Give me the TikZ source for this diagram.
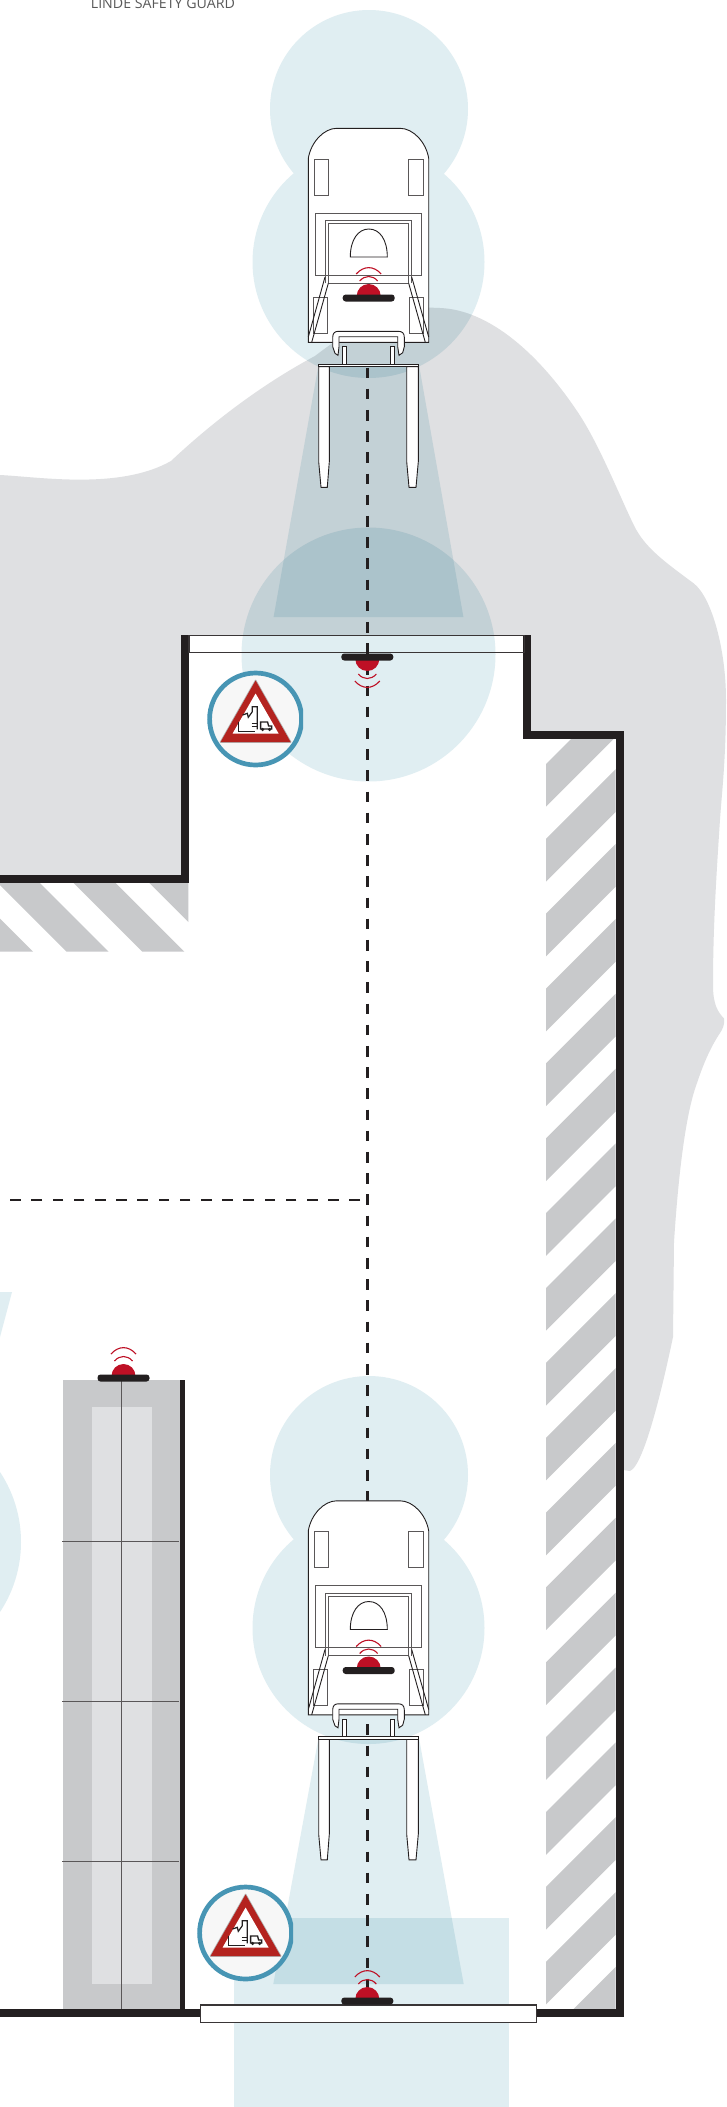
\documentclass[tikz,border=0pt]{standalone}
\usepackage{fontspec}
\setmainfont{Open Sans}
\definecolor{zonecol}{HTML}{E0EEF2}
\definecolor{blobcol}{HTML}{DFE0E2}
\definecolor{hatchcol}{HTML}{C8C9CB}
\definecolor{wallcol}{HTML}{231F20}
\definecolor{redcol}{HTML}{BE1025}
\definecolor{signcol}{HTML}{B4231F}
\definecolor{ringcol}{HTML}{4795B4}
\tikzset{zone/.style={fill=zonecol,blend mode=multiply},wall/.style={draw=wallcol,line width=8pt,miter limit=10},
thin line/.style={draw=wallcol,line width=0.9pt},pale line/.style={draw=wallcol!75,line width=0.9pt},
walkway/.style={draw=wallcol,line width=2.5pt,dash pattern=on 10.7pt off 10.5pt},
beacon/.pic={\fill[redcol](-12,-2)arc[start angle=180,end angle=360,radius=12]--cycle;
\fill[wallcol,rounded corners=3pt](-26,-3.5)rectangle(26,3.5);
\draw[redcol,line width=1.1pt](-12.5,-24)..controls(-5,-32.5)and(5,-32.5)..(12.5,-24);
\draw[redcol,line width=1.1pt](-9,-17)..controls(-4,-23)and(4,-23)..(9,-17);},
truck/.pic={\draw[thin line,fill=white](308.3,342.3)--(308.3,158.3)..controls(311,142)and(324,128.3)..(336.7,128.3)--(400,128.3)..controls(413,128.3)and(426,142)..(428.7,158.3)--(428.7,342.3)--cycle;
\foreach\x in{314,408.7}\draw[pale line](\x,159.3)rectangle(\x+14.3,195.3);
\draw[pale line](315,213)rectangle(421.3,275);
\draw[pale line](325,283.3)--(325,220.7)--(411.7,220.7)--(411.7,283.3);
\draw[pale line](328.3,283.3)--(328.3,223.7)--(408.7,223.7)--(408.7,283.3);
\draw[pale line](328.3,283.3)--(408.7,283.3);
\foreach\x in{313,409.3}\draw[pale line](\x,297.3)rectangle(\x+14.3,333.3);
\draw[thin line](325,277)--(308.3,337)(328.3,283.3)--(311.7,342.3);
\draw[thin line](411.7,277)--(428.7,337)(408.7,283.3)--(425.3,342.3);
\draw[thin line](350.3,257)..controls(350.3,240)and(358,229)..(368.8,229)..controls(380,229)and(387.3,240)..(387.3,257)--cycle;
\pic at(368.7,298){beacon};
\draw[thin line,fill=white](342.7,346.7)rectangle(346.7,364);
\draw[thin line,fill=white](390.3,346.7)rectangle(394.3,364);
\draw[thin line,fill=white](332.7,346.7)--(332.7,337.3)..controls(332.7,333)and(335,331.3)..(338.3,331.3)--(398.3,331.3)..controls(402,331.3)and(404.3,333)..(404.3,337.3)--(404.3,346.7)--(402.7,352.7)--(399,355.3)--(397.7,346.7)--(397.7,336.7)--(339,336.7)--(339,346.7)--(338,355.3)--(335,353.3)--cycle;
\draw[thin line,fill=white](318.7,366.7)--(318.7,461.7)--(321,487.3)--(327.3,487.3)--(329.3,461.7)--(329.3,366.7)--cycle;
\draw[thin line,fill=white](406.7,366.7)--(406.7,461.7)--(409,487.3)--(416,487.3)--(418.3,461.7)--(418.3,366.7)--cycle;
\draw[thin line,fill=white](318.3,364)rectangle(418.7,366.7);},
warnsign/.pic={\begin{scope}\clip(-50,-50)rectangle(47.6,50);
\draw[ringcol,fill=black!3,line width=4.7pt](0,0)circle[radius=46];\end{scope}
\draw[black!30,line width=1.6pt,line join=round,fill=signcol](0,-38.5)--(35,23)--(-35,23)--cycle;
\fill[signcol](0,-38.5)--(35,23)--(-35,23)--cycle;
\fill[white](0,-25.5)--(23,14.5)--(-23,14.5)--cycle;
\draw[wallcol,line width=0.9pt](-17.3,2.7)--(-17.3,12.7)--(-0.7,12.7);
\draw[wallcol,line width=1.2pt](-13,-4)--(-8.3,-5.7)--(-7.3,-1.7)--(-3.3,-7.3)--(-3.3,-12.3)--(1.7,-12.3)--(1.7,10.3);
\draw[wallcol,line width=0.6pt](-4,4)--(1,4)(-4,7)--(1,7);
\draw[wallcol,line width=1.3pt](5,10)--(5,3)--(12,3)--(13,7)--(16,7)--(16,10)--cycle;
\fill[wallcol](7,10.5)circle[radius=1.8](14,10.5)circle[radius=1.8];}}
\begin{document}
\begin{tikzpicture}[x=1pt,y=-1pt]
\useasboundingbox(0,0)rectangle(726,2107);
\fill[white](0,0)rectangle(726,2107);
\node[anchor=base west,inner sep=0pt,text=black!65,font=\fontsize{14.2}{16}\selectfont](title)at(90.7,8.5){LINDE SAFETY GUARD};
% floor behind the walls
\fill[blobcol](0,475)..controls(40,477)and(120,490)..(171,461)..controls(220,415)and(270,380)..(315,356)..controls(355,325)and(395,305)..(440,308)..controls(490,310)and(540,355)..(579,414)..controls(600,446)and(620,497)..(634,525.5)..controls(645,548)and(665,562)..(694,583.6)..controls(712,598)and(726,650)..(726,700)..controls(726,760)and(722,790)..(720,819.5)..controls(716,880)and(713,930)..(713,985)..controls(713,1005)and(718,1012)..(724,1018.5)..controls(725,1025)and(722,1030)..(720,1033)..controls(710,1048)and(703,1065)..(697,1083)..controls(685,1115)and(678,1180)..(674,1242)--(673,1337)..controls(665,1375)and(645,1465)..(630,1471)--(623.7,1470)--(623.7,734.7)--(527.3,734.7)--(527.3,635)--(184.7,635)--(184.7,879)--(0,879)--cycle;
% hatching
\begin{scope}\clip(546,738.3)rectangle(615.7,2009);
\foreach\k in{0,...,17}\fill[hatchcol](546,764+74.86*\k)--(615.7,694.3+74.86*\k)--(615.7,737+74.86*\k)--(546,806.7+74.86*\k)--cycle;
\end{scope}
\begin{scope}\clip(0,882.7)rectangle(188.3,951.7);
\foreach\s in{-9,66.7,142.3,218}\fill[hatchcol](\s,951.7)--(\s+42,951.7)--(\s-27,882.7)--(\s-69,882.7)--cycle;
\end{scope}
% rack
\fill[hatchcol](63,1380)rectangle(180,2009);
\fill[blobcol](92,1407)rectangle(152,1984);
\draw[pale line](121.5,1380)--(121.5,2009);
\foreach\y in{1541,1701,1861}\draw[pale line](62,\y)--(178.5,\y);
% zones
\fill[zone](234,1918.3)rectangle(509,2107);
\fill[zone](-106,1542)circle[radius=127];
\fill[zone](0,1292)--(12,1292)--(0,1337)--cycle;
\fill[zone](369,109)circle[radius=99](368.5,262)circle[radius=116];
\fill[zone](369,1475)circle[radius=99](368.5,1628)circle[radius=116];
\fill[zone](368.5,654.5)circle[radius=127];
\fill[zone](318.5,365)--(419,365)--(463.4,617)--(273.6,617)--cycle;
\fill[zone](318.5,1738)--(419,1738)--(463.7,1984)--(273.3,1984)--cycle;
% walls
\draw[wall](184.7,635)--(184.7,879)--(0,879);
\draw[wall](527.3,635)--(527.3,734.7)--(619.7,734.7)--(619.7,2013)--(530,2013);
\draw[wall](0,2013)--(205,2013);
\draw[draw=wallcol,line width=5pt](182.5,1380)--(182.5,2010);
% gates
\draw[draw=wallcol!90,line width=1.5pt](189,635.5)rectangle(524.5,652.3);
\draw[draw=wallcol!90,line width=1.5pt,fill=white](200.7,2005)rectangle(536.3,2022.7);
% walkways
\draw[walkway](367.3,367.5)--(367.3,1996);
\draw[walkway](360,1200)--(0,1200);
% beacons
\pic[yscale=-1]at(367.3,657){beacon};
\pic at(367.3,2001){beacon};
\pic at(123.5,1378){beacon};
% trucks
\pic at(0,0){truck};
\pic at(0,1372.5){truck};
% signs
\pic at(255.6,719){warnsign};
\pic at(245.6,1933){warnsign};
\end{tikzpicture}
\end{document}
